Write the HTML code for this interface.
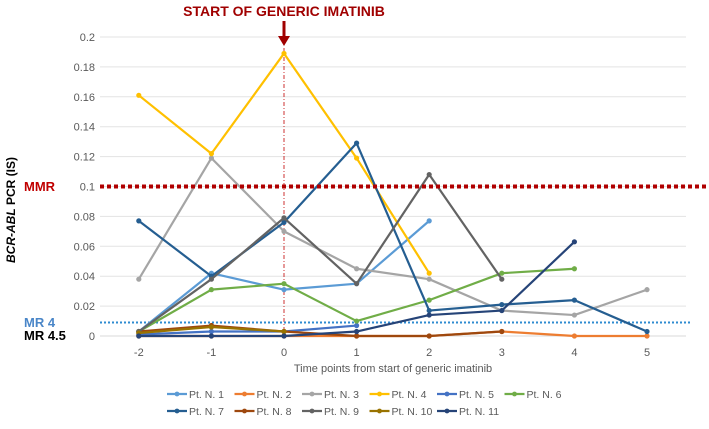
<!DOCTYPE html>
<html><head><meta charset="utf-8"><style>
body{margin:0;background:#fff;font-family:"Liberation Sans",sans-serif}
svg text{font-family:"Liberation Sans",sans-serif}
</style></head><body>
<svg id="c" width="709" height="424" viewBox="0 0 709 424"></svg>
<script>
const xCats=[-2,-1,0,1,2,3,4,5];
const yTicks=[0,0.02,0.04,0.06,0.08,0.1,0.12,0.14,0.16,0.18,0.2];
const yTickLabels=["0","0.02","0.04","0.06","0.08","0.1","0.12","0.14","0.16","0.18","0.2"];
const names=["Pt. N. 1","Pt. N. 2","Pt. N. 3","Pt. N. 4","Pt. N. 5","Pt. N. 6","Pt. N. 7","Pt. N. 8","Pt. N. 9","Pt. N. 10","Pt. N. 11"];
const colors=["#5b9bd5","#ed7d31","#a5a5a5","#ffc000","#4472c4","#70ad47","#255e91","#9e480e","#636363","#997300","#264478"];
const s1=[0.003,0.042,0.031,0.035,0.077,null,null,null];
const s2=[0,0,0,0,0,0.003,0,0];
const s3=[0.038,0.119,0.070,0.045,0.038,0.017,0.014,0.031];
const s4=[0.161,0.122,0.189,0.119,0.042,null,null,null];
const s5=[0.001,0.003,0.003,0.007,null,null,null,null];
const s6=[0.003,0.031,0.035,0.010,0.024,0.042,0.045,null];
const s7=[0.077,0.040,0.076,0.129,0.017,0.021,0.024,0.003];
const s8=[0.003,0.007,0.003,0,0,0.003,null,null];
const s9=[0.003,0.038,0.079,0.035,0.108,0.038,null,null];
const s10=[0.002,0.006,0.003,null,null,null,null,null];
const s11=[0,0,0,0.003,0.014,0.017,0.063,null];
const series=[s1,s2,s3,s4,s5,s6,s7,s8,s9,s10,s11];
const mmr=0.1, mr4=0.009;

const NS="http://www.w3.org/2000/svg";
const svg=document.getElementById('c');
const X=v=>284+(v)*72.6;
const Y=v=>336-v*1495;
function el(t,a,p){const e=document.createElementNS(NS,t);for(const k in a)e.setAttribute(k,a[k]);(p||svg).appendChild(e);return e;}

yTicks.forEach((t,i)=>{
  if(i>0){const g=el('line',{x1:100,x2:686,y1:Y(t),y2:Y(t),stroke:'#e3e3e3','stroke-width':1});
  
  }
  const tx=el('text',{x:95,y:Y(t)+4,'text-anchor':'end','font-size':11,fill:'#595959'});
  tx.textContent=yTickLabels[i];
  
  
});
const ax=el('line',{x1:100,x2:686,y1:Y(0),y2:Y(0),stroke:'#d9d9d9','stroke-width':1});


xCats.forEach(c=>{
  const tx=el('text',{x:X(c),y:356,'text-anchor':'middle','font-size':11,fill:'#595959'});
  tx.textContent=c;
  
  
});
// vertical start line
const vl=el('line',{x1:X(0),x2:X(0),y1:48,y2:336,stroke:'#c00000','stroke-width':0.8,'stroke-dasharray':'4 2 1 2'});


// MR4 line
const l4=el('line',{x1:100,x2:690,y1:Y(mr4),y2:Y(mr4),stroke:'#2e8bd0','stroke-width':2,'stroke-dasharray':'2 2'});



series.forEach((s,i)=>{
  const pts=[];s.forEach((v,j)=>{if(v!==null)pts.push([X(xCats[j]),Y(v)]);});
  const p=el('polyline',{points:pts.map(p=>p.join(',')).join(' '),fill:'none',stroke:colors[i],'stroke-width':2.2,'stroke-linejoin':'round'});
  
  
  pts.forEach(q=>{const m=el('circle',{cx:q[0],cy:q[1],r:2.6,fill:colors[i]});
    
    });
});
// MMR line
const lm=el('line',{x1:100,x2:709,y1:Y(mmr),y2:Y(mmr),stroke:'#b00000','stroke-width':4,'stroke-dasharray':'4 3'});



function label(txt,x,y,o,name){const t=el('text',Object.assign({x:x,y:y},o));t.textContent=txt;
  
  return t;}
label('MMR',24,191,{'font-size':13,'font-weight':'bold',fill:'#c00000'},'mmr-label');
label('MR 4',24,327,{'font-size':13,'font-weight':'bold',fill:'#4a86c8'},'mr4-label');
label('MR 4.5',24,340,{'font-size':13,'font-weight':'bold',fill:'#000'},'mr45-label');
label('START OF GENERIC IMATINIB',X(0),16,{'font-size':14,'font-weight':'bold',fill:'#a00000','text-anchor':'middle'},'annotation-title');
const ar=el('line',{x1:X(0),x2:X(0),y1:21,y2:38,stroke:'#a00000','stroke-width':3});


const ah=el('polygon',{points:`${X(0)-6},36 ${X(0)+6},36 ${X(0)},46`,fill:'#a00000'});


const yt=el('text',{x:0,y:0,transform:'translate(15,210) rotate(-90)','text-anchor':'middle','font-size':12,'font-weight':'bold',fill:'#000'});
yt.innerHTML='<tspan font-style="italic">BCR-ABL</tspan> PCR (IS)';


label('Time points from start of generic imatinib',393,372,{'font-size':11,fill:'#595959','text-anchor':'middle'},'x-axis-title');

names.forEach((n,i)=>{
  const row=i<6?0:1, col=i<6?i:i-6;
  const x=167+col*67.5, y=row?411:394;
  const g=el('g',{});
  
  
  el('line',{x1:x,x2:x+20,y1:y,y2:y,stroke:colors[i],'stroke-width':2.2},g);
  el('circle',{cx:x+10,cy:y,r:2.4,fill:colors[i]},g);
  const t=el('text',{x:x+22,y:y+4,'font-size':10.5,fill:'#595959'},g);t.textContent=n;
});
</script>
</body></html>
